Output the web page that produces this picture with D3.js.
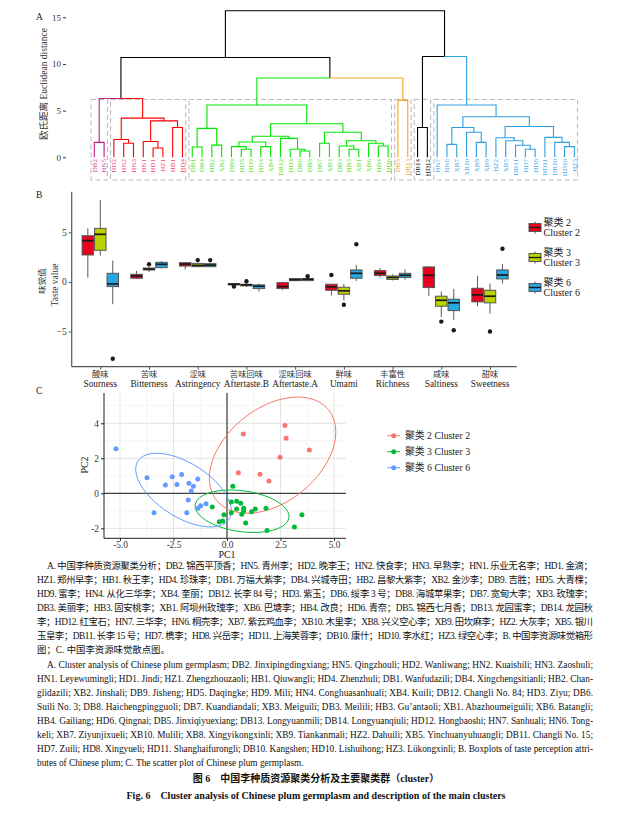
<!DOCTYPE html>
<html>
<head>
<meta charset="utf-8">
<script src="https://cdn.jsdelivr.net/npm/d3@7"></script>
<style>
  body { margin: 0; background: #fff; }
  svg { display: block; }
</style>
</head>
<body>
<svg id="fig" width="633" height="824"></svg>
<script>
// ---------- data: panel A (dendrogram) ----------
const leaves = ["DB2","HN5","HD2","HN2","HN3","HN1","HD1","HZ1","HB1","HD4",
  "DB1","DB4","HB2","XB2","DB9","HD5","HD9","HN4","XB4","DB12",
  "HD3","DB6","DB8","DB7","XB3","DB3","HB3","XB1","XB6","HB4",
  "HD6","DB5","DB13","DB14","HD12","HN7","HN6","XB7","XB10","XB8",
  "XB9","HZ2","XB5","DB11","HD7","HD8","HD11","DB10","HD10","HZ3"];
const leafCluster = [1,1,2,2,2,2,2,2,2,2,
  3,3,3,3,3,3,3,3,3,3, 3,3,3,3,3,3,3,3,3,3, 3,
  4,4, 5,5,
  6,6,6,6,6,6,6,6,6,6,6,6,6,6,6];
// merges as [height, left, right]
const dendro = [15.7,
  [10.7,
    [6.3,
      [1.6, "DB2", "HN5"],
      [4.2,
        [1.9, "HD2", [1.5, "HN2", "HN3"]],
        [3.9, [1.7, "HN1", [1.0, "HD1", "HZ1"]], [3.2, "HB1", "HD4"]]]],
    [8.5,
      [5.6,
        [3.1, [1.1, "DB1", "DB4"], [1.3, "HB2", "XB2"]],
        [3.6,
          [2.25,
            [1.64, [1.14, "DB9", [0.86, "HD5", "HD9"]], [1.14, "HN4", "XB4"]],
            [2.03, "DB12", [0.86, "HD3", [0.68, "DB6", "DB8"]]]],
          [2.68,
            [1.5, "DB7", "XB3"],
            [1.78, [1.21, "DB3", [0.86, "HB3", "XB1"]], [1.5, "XB6", [1.21, "HB4", "HD6"]]]]]],
      [6.1, "DB5", "DB13"]]],
  [10.8,
    [3.2, "DB14", "HD12"],
    [5.6, "HN7",
      [4.35,
        [3.2, [1.39, "HN6", "XB7"], [2.68, "XB10", [1.6, "XB8", "XB9"]]],
        [3.3,
          [2.1, "HZ2", [1.78, "XB5", [1.29, "DB11", [0.86, "HD7", "HD8"]]]],
          [2.14, "HD11", [1.6, "DB10", [1.14, "HD10", "HZ3"]]]]]]]];
const dendroTicks = [0, 5, 10, 15];

// ---------- data: panel B (boxplots) ----------
const tastesZh = ["酸味","苦味","涩味","苦味回味","涩味回味","鲜味","丰富性","咸味","甜味"];
const tastesEn = ["Sourness","Bitterness","Astringency","Aftertaste.B","Aftertaste.A","Umami","Richness","Saltiness","Sweetness"];
const boxGroups = ["2", "3", "6"];
// [lower whisker, q1, median, q3, upper whisker] per taste
const boxC2 = [[0.43,2.72,4.16,4.66,5.4],[0.3,0.37,0.6,0.77,1.1],[1.26,1.6,1.8,1.94,2.0],
  [-0.35,-0.3,-0.23,-0.17,-0.1],[-0.84,-0.67,-0.47,-0.07,0.03],[-1.38,-0.84,-0.5,-0.23,-0.2],
  [0.44,0.64,0.87,1.14,1.41],[-1.41,-0.57,0.67,1.51,1.61],[-2.45,-2.01,-1.31,-0.64,0.6]];
const boxC3 = [[2.65,3.19,4.8,5.4,8.26],[1.0,1.2,1.3,1.4,1.5],[1.48,1.54,1.67,1.87,1.94],
  [-0.5,-0.4,-0.3,-0.23,-0.1],[0.07,0.13,0.23,0.33,0.4],[-1.85,-1.24,-0.9,-0.54,-0.2],
  [0.15,0.25,0.45,0.6,0.75],[-3.52,-2.45,-1.85,-1.44,-0.97],[-3.19,-2.11,-1.44,-0.84,-0.17]];
const boxC6 = [[-2.25,-0.47,-0.2,0.87,2.15],[1.36,1.44,1.78,1.98,2.1],[1.5,1.54,1.7,1.84,1.97],
  [-0.97,-0.67,-0.43,-0.3,-0.17],[0.1,0.13,0.27,0.33,0.43],[0.1,0.37,0.87,1.21,1.71],
  [0.24,0.44,0.67,0.87,1.27],[-3.83,-2.89,-2.11,-1.74,-0.7],[-0.17,0.3,0.7,1.21,1.81]];
const outC2 = [[],[],[],[-0.47],[],[0.7],[],[],[]];
const outC3 = [[],[1.78],[2.2],[0.07],[],[-2.3],[],[-4.0],[-5.0]];
const outC6 = [[-7.75],[],[2.2],[],[0.57],[3.8],[],[-4.87],[3.35]];
const boxTicks = [-5, 0, 5];

// ---------- data: panel C (PCA scatter) ----------
const pcaC2 = [[0.76,3.39],[2.71,3.88],[2.76,3.14],[3.85,2.47],[2.48,2.06],[0.53,1.18],[1.54,1.09],[1.96,0.70]];
const pcaC3 = [[0.27,0.4],[0.2,-0.5],[0.45,-0.46],[0.64,-0.57],[0.78,-0.86],[0.78,-1.01],[0.45,-0.9],
  [1.32,-0.9],[1.15,-1.05],[1.82,-0.86],[0.69,-1.2],[0.2,-1.11],[-0.14,-1.22],[-0.69,-0.78],
  [0.87,-1.7],[-0.2,-1.58],[-0.36,-1.62],[1.87,-2.13],[3.15,-1.93],[3.5,-1.22]];
const pcaC6 = [[-5.19,2.55],[-3.74,0.89],[-2.56,0.95],[-2.12,1.08],[-2.88,0.47],[-2.34,0.51],
  [-1.78,0.57],[-1.37,0.82],[-1.57,0.4],[-1.67,0.13],[-1.81,-0.38],[-1.23,-0.71],[-0.98,-0.59],
  [-1.36,-0.86],[-3.41,-1.11],[-1.88,-1.11]];
const pcTicksX = [-5, -2.5, 0, 2.5, 5];
const pcTicksY = [-2, 0, 2, 4];

// ---------- caption ----------
const captionZh = [
  "A. 中国李种质资源聚类分析；DB2. 锦西平顶香；HN5. 青州李；HD2. 晚李王；HN2. 快食李；HN3. 早熟李；HN1. 乐业无名李；HD1. 金滴；",
  "HZ1. 郑州早李；HB1. 秋王李；HD4. 珍珠李；DB1. 万福大紫李；DB4. 兴城寺田；HB2. 昌黎大紫李；XB2. 金沙李；DB9. 吉胜；HD5. 大青棵；",
  "HD9. 蜜李；HN4. 从化三华李；XB4. 奎丽；DB12. 长李 84 号；HD3. 紫玉；DB6. 绥李 3 号；DB8. 海城苹果李；DB7. 宽甸大李；XB3. 玫瑰李；",
  "DB3. 美丽李；HB3. 固安桃李；XB1. 阿坝州玫瑰李；XB6. 巴塘李；HB4. 改良；HD6. 青奈；DB5. 锦西七月香；DB13. 龙园蜜李；DB14. 龙园秋",
  "李；HD12. 红宝石；HN7. 三华李；HN6. 桐壳李；XB7. 紫云鸡血李；XB10. 木里李；XB8. 兴义空心李；XB9. 田坎麻李；HZ2. 大灰李；XB5. 银川",
  "玉皇李；DB11. 长李 15 号；HD7. 槜李；HD8. 兴岳李；HD11. 上海芙蓉李；DB10. 康什；HD10. 李水红；HZ3. 绿空心李；B. 中国李资源味觉箱形",
  "图；C. 中国李资源味觉散点图。"];
const captionEn = [
  "A. Cluster analysis of Chinese plum germplasm; DB2. Jinxipingdingxiang; HN5. Qingzhouli; HD2. Wanliwang; HN2. Kuaishili; HN3. Zaoshuli;",
  "HN1. Leyewumingli; HD1. Jindi; HZ1. Zhengzhouzaoli; HB1. Qiuwangli; HD4. Zhenzhuli; DB1. Wanfudazili; DB4. Xingchengsitianli; HB2. Chan-",
  "glidazili; XB2. Jinshali; DB9. Jisheng; HD5. Daqingke; HD9. Mili; HN4. Conghuasanhuali; XB4. Kuili; DB12. Changli No. 84; HD3. Ziyu; DB6.",
  "Suili No. 3; DB8. Haichengpingguoli; DB7. Kuandiandali; XB3. Meiguili; DB3. Meilili; HB3. Gu\u2019antaoli; XB1. Abazhoumeiguili; XB6. Batangli;",
  "HB4. Gailiang; HD6. Qingnai; DB5. Jinxiqiyuexiang; DB13. Longyuanmili; DB14. Longyuanqiuli; HD12. Hongbaoshi; HN7. Sanhuali; HN6. Tong-",
  "keli; XB7. Ziyunjixueli; XB10. Mulili; XB8. Xingyikongxinli; XB9. Tiankanmali; HZ2. Dahuili; XB5. Yinchuanyuhuangli; DB11. Changli No. 15;",
  "HD7. Zuili; HD8. Xingyueli; HD11. Shanghaifurongli; DB10. Kangshen; HD10. Lishuihong; HZ3. L\u00fckongxinli; B. Boxplots of taste perception attri-",
  "butes of Chinese plum; C. The scatter plot of Chinese plum germplasm."];
const titleZh = "图 6　中国李种质资源聚类分析及主要聚类群（cluster）";
const titleEn = "Fig. 6　Cluster analysis of Chinese plum germplasm and description of the main clusters";

// ---------- drawing ----------
const svg = d3.select("#fig");
const font = "'Liberation Serif','Noto Sans CJK SC',serif";
const cjk = "'Noto Sans CJK SC',sans-serif";
svg.append("rect").attr("width", 633).attr("height", 824).attr("fill", "#fff");

function panelLetter(t, x, y) {
  svg.append("text").attr("x", x).attr("y", y).text(t)
    .attr("font-family", font).attr("font-size", 9.5).attr("fill", "#222");
}

// ===== Panel A =====
const branchColor = {1: "#c51b7d", 2: "#ff0000", 3: "#00e600", 4: "#f0a81c", 5: "#000000", 6: "#2e9fdf"};
const labelColor = {1: "#d4409e", 2: "#f8487e", 3: "#5ee02a", 4: "#f7aa30", 5: "#222222", 6: "#4aaae8"};
const clusterByLeaf = new Map(leaves.map((l, i) => [l, leafCluster[i]]));

const xA = d3.scalePoint().domain(leaves).range([94.3, 574.3]);
const yA = d3.scaleLinear().domain([0, 15]).range([157.3, 17.3]);

function build(node) {
  if (typeof node === "string") {
    return { x: xA(node), h: 0, cl: clusterByLeaf.get(node) };
  }
  const [h, a, b] = node;
  const l = build(a), r = build(b);
  return { x: (l.x + r.x) / 2, h, cl: (l.cl === r.cl ? l.cl : 0), kids: [l, r] };
}
const tree = build(dendro);

const gA = svg.append("g");
panelLetter("A", 36, 20);

// cluster boxes
const clusterIds = [1, 2, 3, 4, 5, 6];
clusterIds.forEach(c => {
  const ls = leaves.filter(l => clusterByLeaf.get(l) === c);
  const x0 = xA(ls[0]) - 3.3, x1 = xA(ls[ls.length - 1]) + 3.3;
  gA.append("rect")
    .attr("x", x0).attr("y", yA(6.2))
    .attr("width", x1 - x0).attr("height", 180 - yA(6.2))
    .attr("fill", "none").attr("stroke", "#b8b8b8")
    .attr("stroke-width", 1).attr("stroke-dasharray", "5,3");
});

const edges = [];
(function walk(n) {
  if (!n.kids) return;
  n.kids.forEach(k => { edges.push({ p: n, c: k }); walk(k); });
})(tree);
gA.selectAll("path.edge").data(edges).join("path")
  .attr("class", "edge")
  .attr("d", e => `M${e.c.x},${yA(e.c.h)}V${yA(e.p.h)}H${e.p.x}`)
  .attr("fill", "none")
  .attr("stroke", e => e.c.cl ? branchColor[e.c.cl] : "#000")
  .attr("stroke-width", 1.1);

gA.selectAll("text.leaf").data(leaves).join("text")
  .attr("class", "leaf")
  .attr("transform", d => `translate(${xA(d) + 2.4},159) rotate(-90)`)
  .attr("text-anchor", "end")
  .attr("font-family", font).attr("font-size", 7)
  .attr("fill", d => labelColor[clusterByLeaf.get(d)])
  .text(d => d);

// y axis (ticks only)
const axA = gA.append("g").attr("transform", "translate(66,0)")
  .call(d3.axisLeft(yA).tickValues(dendroTicks).tickSize(3).tickPadding(2));
axA.select(".domain").remove();
axA.selectAll("text").attr("font-family", font).attr("font-size", 9).attr("fill", "#333");
axA.selectAll("line").attr("stroke", "#333");
gA.append("text")
  .attr("transform", "translate(47,84) rotate(-90)")
  .attr("text-anchor", "middle")
  .attr("font-family", font).attr("font-size", 9.5).attr("fill", "#333")
  .text("欧氏距离 Euclidean distance");

// ===== Panel B =====
const gB = svg.append("g");
panelLetter("B", 36, 198);
const boxColor = { "2": "#e8001e", "3": "#bcd200", "6": "#27a7e1" };
const boxData = { "2": boxC2, "3": boxC3, "6": boxC6 };
const outData = { "2": outC2, "3": outC3, "6": outC6 };

const xB = d3.scalePoint().domain(tastesEn).range([100.3, 490]);
const dodge = d3.scaleBand().domain(boxGroups).range([-18.2, 18.2]).paddingInner(0.08);
const yB = d3.scaleLinear().domain([-8.55, 9.1]).range([366.7, 191.7]);

const boxes = [];
boxGroups.forEach(g => tastesEn.forEach((t, i) => {
  boxes.push({ g, t, s: boxData[g][i], out: outData[g][i] });
}));

const bx = gB.selectAll("g.box").data(boxes).join("g").attr("class", "box")
  .attr("transform", d => `translate(${xB(d.t) + dodge(d.g)},0)`);
const bw = dodge.bandwidth();
bx.append("line").attr("x1", bw / 2).attr("x2", bw / 2)
  .attr("y1", d => yB(d.s[0])).attr("y2", d => yB(d.s[1]))
  .attr("stroke", "#5a5a5a").attr("stroke-width", 1);
bx.append("line").attr("x1", bw / 2).attr("x2", bw / 2)
  .attr("y1", d => yB(d.s[3])).attr("y2", d => yB(d.s[4]))
  .attr("stroke", "#5a5a5a").attr("stroke-width", 1);
bx.append("rect").attr("x", 0).attr("width", bw)
  .attr("y", d => yB(d.s[3])).attr("height", d => Math.max(1, yB(d.s[1]) - yB(d.s[3])))
  .attr("fill", d => boxColor[d.g]).attr("stroke", "#555").attr("stroke-width", 1);
bx.append("line").attr("x1", 0).attr("x2", bw)
  .attr("y1", d => yB(d.s[2])).attr("y2", d => yB(d.s[2]))
  .attr("stroke", "#1a1a1a").attr("stroke-width", 1.7);
bx.selectAll("circle").data(d => d.out).join("circle")
  .attr("cx", bw / 2).attr("cy", v => yB(v)).attr("r", 2.2).attr("fill", "#1a1a1a");

// axes
const axBy = gB.append("g").attr("transform", "translate(71.7,0)")
  .call(d3.axisLeft(yB).tickValues(boxTicks).tickSize(3).tickPadding(2));
axBy.select(".domain").attr("stroke", "#555").attr("stroke-width", 1.2)
  .attr("d", `M0,191.7V366.7`);
axBy.selectAll("text").attr("font-family", font).attr("font-size", 9.5).attr("fill", "#333");
axBy.selectAll("line").attr("stroke", "#555");

const axBx = gB.append("g").attr("transform", "translate(0,366.7)")
  .call(d3.axisBottom(xB).tickSize(3).tickFormat(""));
axBx.select(".domain").attr("stroke", "#555").attr("stroke-width", 1.2).attr("d", "M71.7,0H516.7");
axBx.selectAll("line").attr("stroke", "#555");
tastesEn.forEach((t, i) => {
  gB.append("text").attr("x", xB(t)).attr("y", 377).attr("text-anchor", "middle")
    .attr("font-family", cjk).attr("font-size", 8.3).attr("fill", "#333").text(tastesZh[i]);
  gB.append("text").attr("x", xB(t)).attr("y", 386.5).attr("text-anchor", "middle")
    .attr("font-family", font).attr("font-size", 9.3).attr("fill", "#222").text(t);
});
gB.append("text").attr("transform", "translate(44.5,281) rotate(-90)").attr("text-anchor", "middle")
  .attr("font-family", cjk).attr("font-size", 8.5).attr("fill", "#333").text("味觉值");
gB.append("text").attr("transform", "translate(57.5,285) rotate(-90)").attr("text-anchor", "middle")
  .attr("font-family", font).attr("font-size", 9.5).attr("fill", "#333").text("Taste value");

// legend B
boxGroups.forEach((g, i) => {
  const cy = 227.5 + i * 30;
  const lg = gB.append("g").attr("transform", `translate(529,${cy})`);
  lg.append("line").attr("x1", 6).attr("x2", 6).attr("y1", -6).attr("y2", 6).attr("stroke", "#555");
  lg.append("rect").attr("x", 0).attr("y", -4).attr("width", 12).attr("height", 8)
    .attr("fill", boxColor[g]).attr("stroke", "#555");
  lg.append("line").attr("x1", 0).attr("x2", 12).attr("y1", 0).attr("y2", 0).attr("stroke", "#1a1a1a").attr("stroke-width", 1.3);
  lg.append("text").attr("x", 14.5).attr("y", -2).attr("font-family", font).attr("font-size", 10)
    .attr("fill", "#222").text(`聚类 ${g}`);
  lg.append("text").attr("x", 14.5).attr("y", 8).attr("font-family", font).attr("font-size", 10)
    .attr("fill", "#222").text(`Cluster ${g}`);
});

// ===== Panel C =====
const gC = svg.append("g");
panelLetter("C", 36, 394);
const xC = d3.scaleLinear().domain([-5.748, 5.56]).range([104, 346]);
const yC = d3.scaleLinear().domain([-2.57, 5.73]).range([538.3, 393]);
const pcaColor = { "2": "#f8766d", "3": "#00ba38", "6": "#619cff" };
const pcaData = { "2": pcaC2, "3": pcaC3, "6": pcaC6 };

// grid
const minorX = pcTicksX.slice(0, -1).map((v, i) => (v + pcTicksX[i + 1]) / 2);
const minorY = pcTicksY.map(v => v + 1);
gC.selectAll("line.mx").data(minorX).join("line")
  .attr("x1", xC).attr("x2", xC).attr("y1", 393).attr("y2", 538.3)
  .attr("stroke", "#efefef").attr("stroke-width", 0.6);
gC.selectAll("line.my").data(minorY).join("line")
  .attr("y1", yC).attr("y2", yC).attr("x1", 104).attr("x2", 346)
  .attr("stroke", "#efefef").attr("stroke-width", 0.6);
gC.selectAll("line.gx").data(pcTicksX).join("line")
  .attr("x1", xC).attr("x2", xC).attr("y1", 393).attr("y2", 538.3)
  .attr("stroke", "#e3e3e3").attr("stroke-width", 1);
gC.selectAll("line.gy").data(pcTicksY).join("line")
  .attr("y1", yC).attr("y2", yC).attr("x1", 104).attr("x2", 346)
  .attr("stroke", "#e3e3e3").attr("stroke-width", 1);
// zero lines
gC.append("line").attr("x1", xC(0)).attr("x2", xC(0)).attr("y1", 393).attr("y2", 538.3)
  .attr("stroke", "#000").attr("stroke-width", 0.9);
gC.append("line").attr("x1", 104).attr("x2", 346).attr("y1", yC(0)).attr("y2", yC(0))
  .attr("stroke", "#000").attr("stroke-width", 0.9);

// robust t ellipse, as ggplot2 stat_ellipse (MASS::cov.trob)
function trobEllipse(pts, level = 0.95, nu = 5) {
  const n = pts.length, p = 2;
  let loc = [d3.mean(pts, d => d[0]), d3.mean(pts, d => d[1])];
  let w = pts.map(() => 1 + p / nu);
  let X;
  for (let it = 0; it < 25; it++) {
    const w0 = w;
    X = pts.map(d => [d[0] - loc[0], d[1] - loc[1]]);
    const sw = d3.sum(w);
    let a = 0, b = 0, c = 0;
    X.forEach((d, i) => { a += w[i] * d[0] * d[0]; b += w[i] * d[0] * d[1]; c += w[i] * d[1] * d[1]; });
    a /= sw; b /= sw; c /= sw;
    const det = a * c - b * b;
    w = X.map(d => (nu + p) / (nu + (c * d[0] * d[0] - 2 * b * d[0] * d[1] + a * d[1] * d[1]) / det));
    const sw2 = d3.sum(w);
    loc = [d3.sum(pts, (d, i) => w[i] * d[0]) / sw2, d3.sum(pts, (d, i) => w[i] * d[1]) / sw2];
    if (w.every((v, i) => Math.abs(v - w0[i]) < 0.01)) break;
  }
  let a = 0, b = 0, c = 0;
  X.forEach((d, i) => { a += w[i] * d[0] * d[0]; b += w[i] * d[0] * d[1]; c += w[i] * d[1] * d[1]; });
  a /= n; b /= n; c /= n;
  const m = n - 1;
  const qf = (m / 2) * (Math.pow(1 - level, -2 / m) - 1);
  const radius = Math.sqrt(2 * qf);
  const r11 = Math.sqrt(a), r12 = b / r11, r22 = Math.sqrt(c - r12 * r12);
  return d3.range(0, 52).map(k => {
    const t = k * 2 * Math.PI / 51;
    const u = Math.cos(t), v = Math.sin(t);
    return [loc[0] + radius * u * r11, loc[1] + radius * (u * r12 + v * r22)];
  });
}

const line = d3.line().x(d => xC(d[0])).y(d => yC(d[1]));
boxGroups.forEach(g => {
  gC.append("path").attr("d", line(trobEllipse(pcaData[g])))
    .attr("fill", "none").attr("stroke", pcaColor[g]).attr("stroke-width", 1);
});
boxGroups.forEach(g => {
  gC.selectAll(null).data(pcaData[g]).join("circle")
    .attr("cx", d => xC(d[0])).attr("cy", d => yC(d[1])).attr("r", 2.5)
    .attr("fill", pcaColor[g]);
});

// axes C
const axCx = gC.append("g").attr("transform", "translate(0,538.3)")
  .call(d3.axisBottom(xC).tickValues(pcTicksX).tickFormat(d3.format(".1f")).tickSize(2.5).tickPadding(0.5));
axCx.select(".domain").attr("d", "M104,0H346").attr("stroke", "#222");
const axCy = gC.append("g").attr("transform", "translate(104,0)")
  .call(d3.axisLeft(yC).tickValues(pcTicksY).tickSize(3).tickPadding(2));
axCy.select(".domain").attr("d", "M0,393V538.3").attr("stroke", "#222");
[axCx, axCy].forEach(ax => {
  ax.selectAll("text").attr("font-family", font).attr("font-size", 9.3).attr("fill", "#333")
    .text(function () { return this.textContent.replace("\u2212", "-"); });
  ax.selectAll("line").attr("stroke", "#222");
});
gC.append("text").attr("x", 227).attr("y", 558).attr("text-anchor", "middle")
  .attr("font-family", font).attr("font-size", 10).attr("fill", "#222").text("PC1");
gC.append("text").attr("transform", "translate(88,465) rotate(-90)").attr("text-anchor", "middle")
  .attr("font-family", font).attr("font-size", 10).attr("fill", "#222").text("PC2");

// legend C
boxGroups.forEach((g, i) => {
  const cy = 435.7 + i * 16;
  gC.append("line").attr("x1", 387.3).attr("x2", 400).attr("y1", cy).attr("y2", cy)
    .attr("stroke", pcaColor[g]).attr("stroke-width", 1);
  gC.append("circle").attr("cx", 393.7).attr("cy", cy).attr("r", 2.5).attr("fill", pcaColor[g]);
  gC.append("text").attr("x", 405).attr("y", cy + 3.5).attr("font-family", font).attr("font-size", 9.8)
    .attr("fill", "#222").text(`聚类 ${g} Cluster ${g}`);
});

// ===== caption =====
const gT = svg.append("g").attr("font-family", font).attr("fill", "#111");
function capLine(t, y, x0, justify, size) {
  const el = gT.append("text").attr("x", x0).attr("y", y).attr("font-size", size).text(t);
  if (justify) el.attr("textLength", 593 - x0).attr("lengthAdjust", "spacing");
}
captionZh.forEach((t, i) => capLine(t, 569 + i * 14, i === 0 ? 47 : 37, i < captionZh.length - 1, 9.4));
captionEn.forEach((t, i) => capLine(t, 668 + i * 14, i === 0 ? 47 : 37, i < captionEn.length - 1, 9.3));
gT.append("text").attr("x", 316).attr("y", 782).attr("text-anchor", "middle")
  .attr("font-size", 10).attr("font-weight", "bold").text(titleZh);
gT.append("text").attr("x", 316).attr("y", 799).attr("text-anchor", "middle")
  .attr("font-size", 10).attr("font-weight", "bold").text(titleEn);
</script>
</body>
</html>
